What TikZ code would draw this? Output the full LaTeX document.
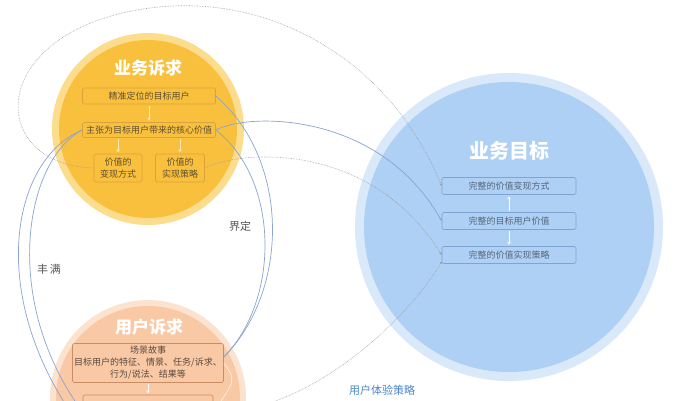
\documentclass[tikz,border=0pt]{standalone}
\usepackage{fontspec}
\setmainfont{Noto Sans CJK SC}
\usetikzlibrary{arrows.meta}
\definecolor{ysring}{HTML}{FCDD8E}
\definecolor{ysfill}{HTML}{F9C03E}
\definecolor{ysline}{HTML}{D9A23A}
\definecolor{ystext}{HTML}{5E5034}
\definecolor{btring}{HTML}{DAE9F9}
\definecolor{btfill}{HTML}{AED0F4}
\definecolor{btline}{HTML}{7FA3D2}
\definecolor{bttext}{HTML}{56657A}
\definecolor{ucring}{HTML}{FCE3D0}
\definecolor{ucfill}{HTML}{F9C8A4}
\definecolor{ucline}{HTML}{C98C64}
\definecolor{uctext}{HTML}{5A4A40}
\definecolor{conn}{HTML}{8AA4CF}
\definecolor{dotc}{HTML}{9C9C9C}
\definecolor{lblgrey}{HTML}{555555}
\definecolor{lblblue}{HTML}{4A86C5}
\begin{document}
\begin{tikzpicture}[x=1pt,y=-1pt,
  disc/.style={circle,inner sep=0pt,minimum size=#1},
  titletext/.style={text=white,font=\bfseries\fontsize{17}{19}\selectfont},
  boxbase/.style={draw,rounded corners=1.5pt,line width=0.6pt,inner sep=1pt,align=center,font=\fontsize{9}{12}\selectfont},
  ybox/.style={boxbase,draw=ysline,text=ystext},
  bbox/.style={boxbase,draw=btline,text=bttext},
  obox/.style={boxbase,draw=ucline,text=uctext},
  inarrow/.style={-{Stealth[length=3pt,width=3.5pt]},line width=0.8pt,shorten >=1.5pt,shorten <=1.5pt},
  bluecon/.style={conn,line width=0.7pt,-{Stealth[length=3pt,width=2.5pt]}},
  bluepl/.style={conn,line width=0.7pt},
  dotcon/.style={dotc,densely dotted,line width=0.6pt,-{Stealth[length=3pt,width=2.5pt]}},
  lbl/.style={text=lblgrey,font=\fontsize{11}{13}\selectfont}
]
\useasboundingbox[fill=white] (0,0) rectangle (680,400);

% ---- circles
\node[disc=192pt,fill=ysring] (ysO) at (148,129) {};
\node[disc=178pt,fill=ysfill] (ysI) at (148,129) {};
\node[disc=308pt,fill=btring] (btO) at (509,227) {};
\node[disc=290pt,fill=btfill] (btI) at (509,227) {};
\node[disc=196pt,fill=ucring] (ucO) at (148,398) {};
\node[disc=184pt,fill=ucfill] (ucI) at (148,398) {};

% ---- titles
\node[titletext] (ysT) at (148,68) {业务诉求};
\node[titletext,font=\bfseries\fontsize{20}{22}\selectfont] (btT) at (509,151) {业务目标};
\node[titletext] (ucT) at (149,327) {用户诉求};

% ---- yellow boxes
\node[ybox,minimum width=133pt,minimum height=16pt] (y1) at (149,96) {精准定位的目标用户};
\node[ybox,minimum width=133pt,minimum height=15pt] (y2) at (149,130) {主张为目标用户带来的核心价值};
\node[ybox,minimum width=48pt,minimum height=28pt] (y3) at (118,168) {价值的\\变现方式};
\node[ybox,minimum width=49pt,minimum height=28pt] (y4) at (180,168) {价值的\\实现策略};
\draw[inarrow,color=ysring!60!white] (y1) -- (y2);
\draw[inarrow,color=ysring!60!white] (y2.south -| y3) -- (y3.north);
\draw[inarrow,color=ysring!60!white] (y2.south -| y4) -- (y4.north);

% ---- blue boxes
\node[bbox,minimum width=134pt,minimum height=17pt] (b1) at (509,186) {完整的价值变现方式};
\node[bbox,minimum width=134pt,minimum height=17pt] (b2) at (509,221) {完整的目标用户价值};
\node[bbox,minimum width=134pt,minimum height=17pt] (b3) at (509,255) {完整的价值实现策略};
\draw[inarrow,color=white] (b2) -- (b1);
\draw[inarrow,color=white] (b2) -- (b3);

% ---- orange boxes
\node[obox,minimum width=151pt,minimum height=39pt] (o1) at (148,363) {场景故事\\目标用户的特征、情景、任务/诉求、\\行为/说法、结果等};
\node[obox,minimum width=130pt,minimum height=34pt] (o2) at (148,412) {};
\draw[inarrow,color=white] (o1) -- (o2);

% ---- connectors
\draw[dotcon] (y3.west) .. controls (-15,165) and (-15,30) .. (150,8)
   .. controls (270,-8) and (390,60) .. (b1.west);
\draw[dotcon] (y4.east) .. controls (240,150) and (370,140) .. (b3.west);
\draw[bluecon] (y2.east) .. controls (250,112) and (380,112) .. (b2.west);
\draw[bluepl] (y1.east) .. controls (290,160) and (290,290) .. ([yshift=6pt]o1.east);
\draw[bluepl] (y2.east) .. controls (280,180) and (280,300) .. ([yshift=6pt]o1.east);
\draw[bluepl] (y2.west) .. controls (10,160) and (-15,300) .. (o2.south west);
\draw[bluepl] (y2.west) .. controls (25,160) and (0,300) .. (o2.west);
\draw[white,line width=0.6pt,opacity=0.8] (o1.east) .. controls (236,380) .. (o2.east);
\draw[dotc,densely dotted,line width=0.6pt,-{Circle[length=2pt]}] (o2.east) .. controls (300,415) and (400,330) .. ([yshift=-7pt]b3.west);

% ---- labels
\node[lbl] (jd) at (240,226) {界定};
\node[lbl] (fm) at (49,269) {丰\,满};
\node[lbl,text=lblblue] (ux) at (382,390) {用户体验策略};
\end{tikzpicture}
\end{document}
